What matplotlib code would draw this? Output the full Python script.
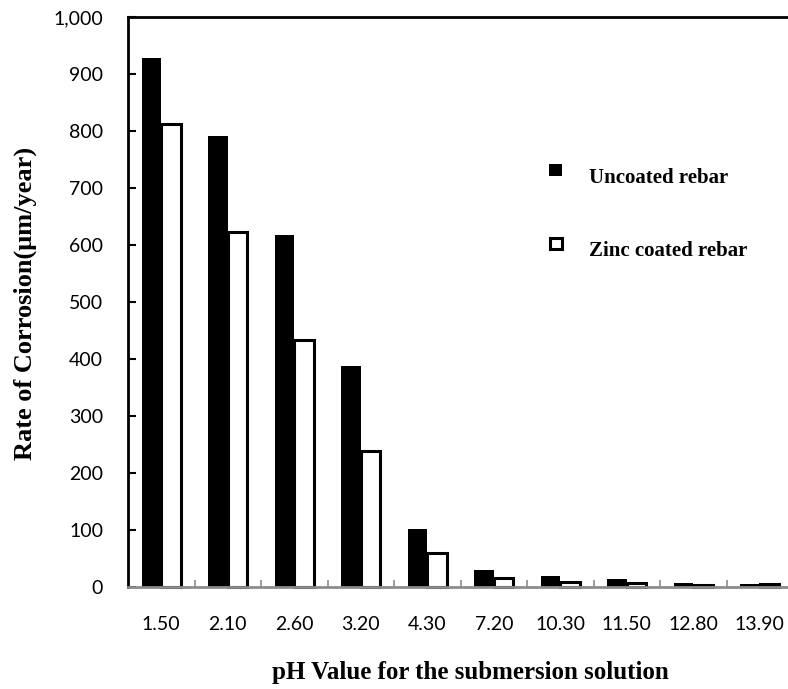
import matplotlib
matplotlib.use("Agg")
import matplotlib.pyplot as plt
import numpy as np
from matplotlib.ticker import FuncFormatter, FixedLocator

# pH of each submersion solution
ph_labels = ["1.50", "2.10", "2.60", "3.20", "4.30", "7.20", "10.30", "11.50", "12.80", "13.90"]
# Corrosion rate, um/year
uncoated = [928, 792, 617, 388, 101, 29, 19, 14, 7, 6]
zinc_coated = [812, 622, 434, 238, 59, 15, 9, 7, 4, 5]

serif = ["Liberation Serif", "DejaVu Serif"]
sans = ["Lato", "DejaVu Sans"]

fig = plt.figure(figsize=(7.88, 6.89), dpi=100)
ax = fig.add_axes([128 / 788, 1 - 587 / 689, 665 / 788, 570 / 689])

x = np.arange(len(ph_labels))
w = 0.29
ax.bar(x - w / 2, uncoated, width=w, color="black", edgecolor="black",
       linewidth=0, zorder=2, clip_on=False)
ax.bar(x + w / 2, zinc_coated, width=w, color="white", edgecolor="black",
       linewidth=2.2, zorder=2, clip_on=False)

ax.set_xlim(-0.5, len(ph_labels) - 0.5)
ax.set_ylim(0, 1000)
ax.set_yticks(np.arange(0, 1001, 100))
ax.yaxis.set_major_formatter(FuncFormatter(lambda v, p: f"{int(v):,}"))

ax.set_xticks(x)
ax.set_xticklabels(ph_labels)
ax.xaxis.set_minor_locator(FixedLocator(np.arange(0.5, len(ph_labels) - 0.5, 1)))

ax.tick_params(axis="y", direction="in", length=6, width=1.5, color="black",
               labelsize=14, pad=18)
ax.tick_params(axis="x", which="major", length=0, labelsize=14, pad=21)
ax.tick_params(axis="x", which="minor", direction="in", length=5, width=1.2,
               color="#8c8c8c")
for lab in ax.get_xticklabels() + ax.get_yticklabels():
    lab.set_family(sans)

for side in ("left", "top"):
    ax.spines[side].set_linewidth(2)
    ax.spines[side].set_color("black")
ax.spines["right"].set_visible(False)
ax.spines["bottom"].set_color("#8c8c8c")
ax.spines["bottom"].set_linewidth(2)
ax.spines["bottom"].set_zorder(3)

fig.text(470 / 788, 1 - 673 / 689, "pH Value for the submersion solution",
         ha="center", va="center", family=serif, weight="bold", fontsize=18)
fig.text(25 / 788, 1 - 303 / 689, "Rate of Corrosion(\u03bcm/year)", rotation=90,
         ha="center", va="center", family=serif, weight="bold", fontsize=19)

# Legend entries
fig.patches.append(plt.Rectangle((549 / 788, 1 - 176 / 689), 13 / 788, 12 / 689,
                                 transform=fig.transFigure, facecolor="black",
                                 edgecolor="black", linewidth=0))
fig.patches.append(plt.Rectangle((550 / 788, 1 - 249 / 689), 12 / 788, 11 / 689,
                                 transform=fig.transFigure, facecolor="white",
                                 edgecolor="black", linewidth=2.2))
fig.text(589 / 788, 1 - 178 / 689, "Uncoated rebar", ha="left", va="center",
         family=serif, weight="bold", fontsize=15)
fig.text(589 / 788, 1 - 251 / 689, "Zinc coated rebar", ha="left", va="center",
         family=serif, weight="bold", fontsize=15)

fig.savefig("out.png", dpi=100)
